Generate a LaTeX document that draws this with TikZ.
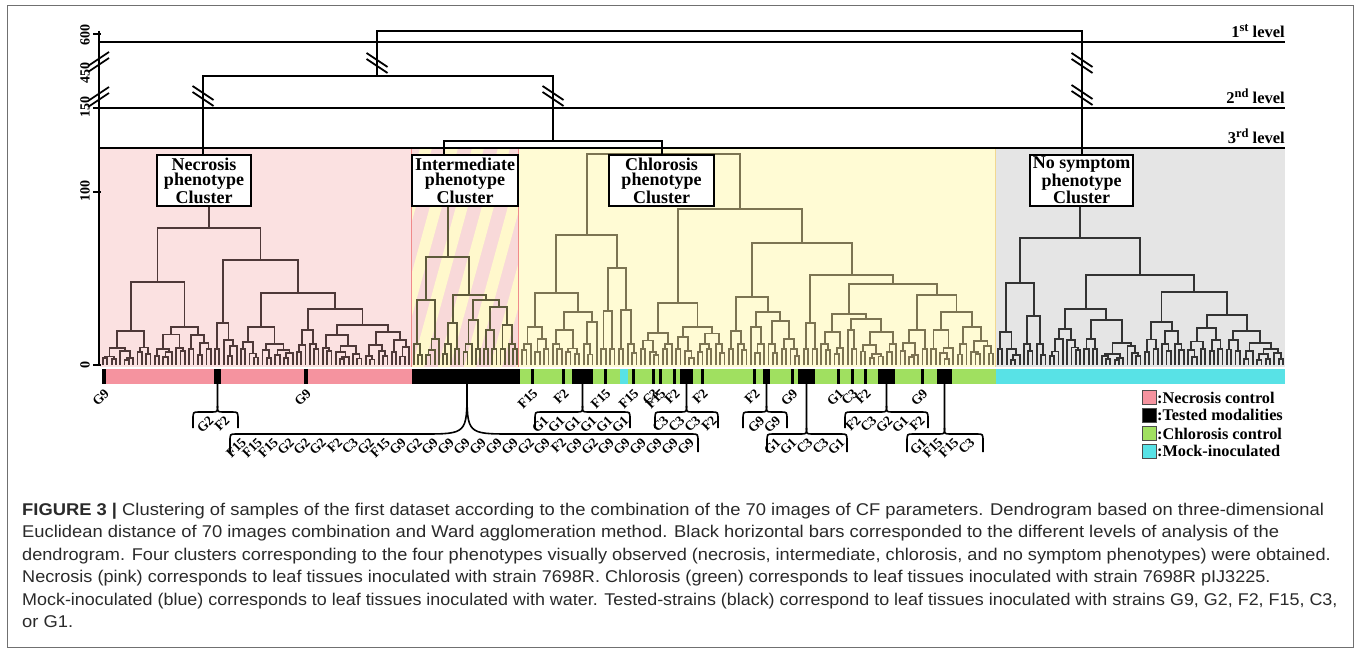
\documentclass[tikz,border=0pt]{standalone}
\usepackage{fontspec}
\setmainfont{Liberation Serif}
\newfontfamily\capfont[FakeStretch=1.08]{Liberation Sans}
\definecolor{pinkbg}{HTML}{FBE1E1}
\definecolor{stripepink}{HTML}{F8D9D9}
\definecolor{stripeyel}{HTML}{FFF8CC}
\definecolor{yellowbg}{HTML}{FFFBD4}
\definecolor{graybg}{HTML}{E5E5E5}
\definecolor{necl}{HTML}{4E3838}
\definecolor{intl}{HTML}{5E5A3A}
\definecolor{chll}{HTML}{7C7452}
\definecolor{nosl}{HTML}{333333}
\definecolor{barpink}{HTML}{F5939F}
\definecolor{bargreen}{HTML}{A0E060}
\definecolor{barcyan}{HTML}{58E2E6}
\definecolor{framegray}{HTML}{707070}
\definecolor{captxt}{HTML}{2A2A2A}
\definecolor{intedge}{HTML}{F08A8A}
\definecolor{chledge}{HTML}{F2D890}

\def\BASE{365}
\gdef\curx{0}\gdef\dsp{4}\gdef\retpos{0}\gdef\reth{0}
\newcommand\leafstart[3]{\pgfmathsetmacro\tmpa{(#2-#1)/(#3-1)}\xdef\dsp{\tmpa}\xdef\curx{#1}}
\newcommand\DLeaf{\xdef\retpos{\curx}\xdef\reth{0}\pgfmathsetmacro\tmpc{\curx+\dsp}\xdef\curx{\tmpc}}
\newcommand\DM[3]{\begingroup
  #2\let\pA\retpos\let\hA\reth
  #3\let\pB\retpos\let\hB\reth
  \draw[dline] (\pA,\BASE-\hA) -- (\pA,\BASE-#1) -- (\pB,\BASE-#1) -- (\pB,\BASE-\hB);
  \pgfmathsetmacro\pM{(\pA+\pB)/2}\xdef\retpos{\pM}\xdef\reth{#1}%
  \endgroup}
\newcommand\DT[2]{%
  \ifnum#1<2 \DLeaf\else
  \begingroup
   \pgfmathtruncatemacro\nL{max(1,min(#1-1,round(#1*(0.3+0.4*rnd))))}%
   \pgfmathtruncatemacro\nR{#1-\nL}%
   \pgfmathsetmacro\hL{\nL<2 ? 0 : max(5,min(#2*(0.45+0.4*rnd),6+5*\nL))}%
   \pgfmathsetmacro\hR{\nR<2 ? 0 : max(5,min(#2*(0.45+0.4*rnd),6+5*\nR))}%
   \edef\next{\noexpand\DM{#2}{\noexpand\DT{\nL}{\hL}}{\noexpand\DT{\nR}{\hR}}}%
   \next
  \endgroup
  \fi}
\newcommand\brkmark[2]{\draw[brk] (#1-10.5,#2-10) -- (#1+10.5,#2+4); \draw[brk] (#1-10.5,#2-4) -- (#1+10.5,#2+10);}
\newcommand\axbrk[2]{\draw[brk] (#1-10.5,#2+4) -- (#1+10.5,#2-10); \draw[brk] (#1-10.5,#2+10) -- (#1+10.5,#2-4);}
\newcommand\brc[6]{%
  \draw[brcl] (#1,384) -- (#1,#2-#5) .. controls (#1,#2) .. (#1-#5,#2) -- (#3+6,#2) .. controls (#3,#2) .. (#3,#2+8) -- (#3,#6);
  \draw[brcl] (#1,#2-#5) .. controls (#1,#2) .. (#1+#5,#2) -- (#4-6,#2) .. controls (#4,#2) .. (#4,#2+8) -- (#4,#6);}
\newcommand\blabels[4]{\foreach \t [count=\i] in {#4} {\node[lbl] at ({#1+(\i-(#3+1)/2)*16+4},#2+6) {\t};}}
\newcommand\supx[1]{\raisebox{6pt}{\fontsize{12.5}{12.5}\selectfont #1}}

\begin{document}
\begin{tikzpicture}[x=1pt,y=-1pt,
  dline/.style={draw=necl,line width=1.8pt},
  lev/.style={line width=2.4pt,black},
  brk/.style={line width=1.8pt,black},
  cbox/.style={draw=black,line width=1.3pt,fill=white,font=\bfseries\fontsize{18}{15.5}\selectfont,align=center,inner sep=2pt,minimum height=51pt},
  lbl/.style={font=\bfseries\fontsize{13.5}{13.5}\selectfont,rotate=45,anchor=east,inner sep=0pt},
  brcl/.style={line width=1.6pt,black},
  lvltxt/.style={font=\bfseries\fontsize{16.5}{16.5}\selectfont,anchor=base east,inner sep=0pt},
  axl/.style={font=\bfseries\fontsize{14}{14}\selectfont,rotate=90,inner sep=0pt},
  legtxt/.style={font=\bfseries\fontsize{16.3}{16.3}\selectfont,anchor=west,inner sep=0.5pt},
  captext/.style={font=\capfont\fontsize{17}{20}\selectfont,text=captxt,anchor=base west,inner sep=0pt}]
\useasboundingbox (0,0) rectangle (1360,650);
\fill[white] (0,0) rectangle (1360,650);
\pgfmathsetseed{7}

% panels
\fill[pinkbg] (100,148) rectangle (411,367);
\begin{scope}
  \clip (411,148) rectangle (519,367);
  \fill[stripepink] (411,148) rectangle (519,367);
  \foreach \k in {0,...,7} {\fill[stripeyel] (360+\k*26,367) -- ++(12,0) -- ++(60,-219) -- ++(-12,0) -- cycle;}
\end{scope}
\fill[yellowbg] (519,148) rectangle (995,367);
\fill[graybg] (995,148) rectangle (1285,367);
\draw[intedge,line width=0.8pt] (411.5,148) -- (411.5,367) (518.5,148) -- (518.5,367);
\draw[chledge,line width=0.8pt] (995,148) -- (995,367);

% dendrograms
\begin{scope}[dline/.style={draw=necl,line width=1.8pt}]
\leafstart{103}{409}{72}
\DM{137}{\DM{83}{\DT{12}{34}}{\DT{14}{38}}}{\DM{105}{\DT{6}{42}}{\DM{72}{\DT{13}{38}}{\DM{56}{\DT{6}{35}}{\DM{40}{\DT{10}{30}}{\DT{11}{33}}}}}}
\draw[dline] (\retpos,228) -- (\retpos,206);
\end{scope}
\begin{scope}[dline/.style={draw=intl,line width=1.8pt}]
\leafstart{414}{517}{26}
\DM{108}{\DT{7}{65}}{\DM{70}{\DT{5}{42}}{\DM{65}{\DT{5}{45}}{\DM{58}{\DT{4}{35}}{\DT{5}{40}}}}}
\draw[dline] (\retpos,257) -- (\retpos,206);
\end{scope}
\begin{scope}[dline/.style={draw=chll,line width=1.8pt}]
\leafstart{522}{993}{108}
\DM{211}{\DM{130}{\DM{72}{\DT{7}{38}}{\DM{53}{\DT{7}{35}}{\DT{4}{43}}}}{\DM{97}{\DT{4}{54}}{\DT{5}{55}}}}{\DM{156}{\DM{62}{\DT{8}{32}}{\DT{12}{38}}}{\DM{122}{\DM{68}{\DT{5}{34}}{\DM{53}{\DT{4}{38}}{\DT{8}{44}}}}{\DM{90}{\DT{4}{42}}{\DM{81}{\DM{51}{\DT{6}{33}}{\DM{46}{\DT{3}{35}}{\DT{9}{33}}}}{\DM{70}{\DT{7}{35}}{\DM{53}{\DT{6}{35}}{\DT{9}{38}}}}}}}}
\end{scope}
\begin{scope}[dline/.style={draw=nosl,line width=1.8pt}]
\leafstart{998}{1283}{67}
\DM{127}{\DM{82}{\DT{6}{33}}{\DT{6}{49}}}{\DM{90}{\DM{56}{\DT{8}{36}}{\DT{14}{45}}}{\DM{73}{\DT{10}{43}}{\DT{23}{50}}}}
\draw[dline] (\retpos,238) -- (\retpos,206);
\end{scope}

% axis
\draw[line width=2pt] (98.5,31) -- (98.5,366);
\foreach \yy in {34,108,192,365} {\draw[line width=1.6pt] (93,\yy) -- (101,\yy);}
\axbrk{98.5}{62}
\axbrk{98.5}{97}
\node[axl] (a600) at (85,35) {600};
\node[axl] (a450) at (85,73) {450};
\node[axl] (a150) at (85,107) {150};
\node[axl] (a100) at (85,191) {100};
\node[axl] (a0) at (85,365) {0};

% level lines
\draw[lev] (98.5,42) -- (1285,42);
\draw[lev] (98.5,108) -- (1285,108);
\draw[lev] (98.5,148) -- (1285,148);
\node[lvltxt] (lv1) at (1285,38) {1\supx{st} level};
\node[lvltxt] (lv2) at (1285,104) {2\supx{nd} level};
\node[lvltxt] (lv3) at (1285,144) {3\supx{rd} level};

% cluster boxes
\node[cbox,minimum width=94pt] (necbox) at (204,180.5) {Necrosis\\phenotype\\Cluster};
\node[cbox,minimum width=106pt] (intbox) at (465,180.5) {Intermediate\\phenotype\\Cluster};
\node[cbox,minimum width=105pt] (chlbox) at (661.5,180.5) {Chlorosis\\phenotype\\Cluster};
\node[cbox,minimum width=103pt] (nosbox) at (1081.5,180.5) {No symptom\\phenotype\\Cluster};

% top-level joins
\coordinate (j1l) at (377,31);
\coordinate (j1r) at (1082,31);
\coordinate (j2l) at (203,76);
\coordinate (j2r) at (553,76);
\coordinate (j3l) at (444,141);
\coordinate (j3r) at (662,141);
\draw[lev,line join=miter] (j1l |- j2l) -- (j1l) -- (j1r) -- (j1r |- nosbox.north);
\draw[lev,line join=miter] (j2l |- necbox.north) -- (j2l) -- (j2r) -- (j2r |- j3l);
\draw[lev,line join=miter] (j3l |- intbox.north) -- (j3l) -- (j3r) -- (j3r |- chlbox.north);
\brkmark{377}{63}
\brkmark{203}{96}
\brkmark{553}{96}
\brkmark{1082}{63}
\brkmark{1082}{95}

% colour bar
\fill[barpink] (102,369) rectangle (412,384);
\fill[bargreen] (520,369) rectangle (996,384);
\fill[barcyan] (996,369) rectangle (1285,384);
\fill[barcyan] (620,369) rectangle (628,384);
\foreach \a/\b in {102/106,214/221,304/308,412/520,531/534,562/565,572/593,604/607,632/635,652/655,659/662,673/676,680/693,701/704,753/756,763/770,791/794,798/815,837/840,851/854,864/867,878/895,921/924,937/952}
  {\fill[black] (\a,369) rectangle (\b,384);}

% single labels
\foreach \x/\t [count=\i] in {104/G9,306/G9,532.5/F15,563.5/F2,605.5/F15,633.5/F15,653.5/C3,660.5/F15,674.5/F2,702.5/F2,754.5/F2,792.5/G9,838.5/G1,852.5/C3,865.5/F2,922.5/G9}
  {\node[lbl] (s\i) at (\x+3,391) {\t};}

% braces
\brc{217.5}{412}{193}{238}{6}{428}
\blabels{215.5}{412}{2}{G2,F2}
\brc{467}{434}{230}{698}{45}{452}
\blabels{464}{434}{29}{F15,F15,F15,G2,G2,G2,F2,C3,G2,F15,G9,G2,G9,G9,G9,G9,G9,G9,G2,G9,F2,G9,G2,G9,G9,G9,G9,G9,G9}
\brc{582.5}{412}{535}{630}{6}{428}
\blabels{582.5}{412}{6}{G1,G1,G1,G1,G1,G1}
\brc{686.5}{412}{655}{718}{6}{428}
\blabels{686.5}{412}{4}{C3,C3,C3,F2}
\brc{766.5}{412}{743}{787}{6}{428}
\blabels{766.5}{412}{2}{G9,G9}
\brc{806.5}{434}{767}{847}{6}{452}
\blabels{806.5}{434}{5}{G1,G1,C3,C3,G1}
\brc{886.5}{412}{845}{928}{6}{428}
\blabels{886.5}{412}{5}{F2,C3,G2,G1,F2}
\brc{944.5}{434}{907}{983}{6}{452}
\blabels{944.5}{434}{4}{G1,F15,F15,C3}

% legend
\foreach \c/\t/\yy [count=\i] in {barpink/{:Necrosis control}/397.5,black/{:Tested modalities}/415,bargreen/{:Chlorosis control}/433.5,barcyan/{:Mock-inoculated}/451}
  {\node[draw=black!70,line width=0.8pt,fill=\c,minimum size=14pt,inner sep=0pt] (sq\i) at (1149,\yy) {};
   \node[legtxt] (lt\i) at (sq\i.east) {\t};}

% caption
\node[captext] (c1) at (22,515) {\textbf{FIGURE 3 |} Clustering of samples of the first dataset according to the combination of the 70 images of CF parameters. Dendrogram based on three-dimensional};
\node[captext] (c2) at (22,537.5) {Euclidean distance of 70 images combination and Ward agglomeration method. Black horizontal bars corresponded to the different levels of analysis of the};
\node[captext,xscale=0.989,transform shape] (c3) at (22,560) {dendrogram. Four clusters corresponding to the four phenotypes visually observed (necrosis, intermediate, chlorosis, and no symptom phenotypes) were obtained.};
\node[captext,xscale=0.985,transform shape] (c4) at (22,582.5) {Necrosis (pink) corresponds to leaf tissues inoculated with strain 7698R. Chlorosis (green) corresponds to leaf tissues inoculated with strain 7698R pIJ3225.};
\node[captext,xscale=0.976,transform shape] (c5) at (22,605) {Mock-inoculated (blue) corresponds to leaf tissues inoculated with water. Tested-strains (black) correspond to leaf tissues inoculated with strains G9, G2, F2, F15, C3,};
\node[captext] (c6) at (22,627.5) {or G1.};

\draw[framegray,line width=1pt] (7.5,6) rectangle (1353.5,647.5);
\end{tikzpicture}
\end{document}
